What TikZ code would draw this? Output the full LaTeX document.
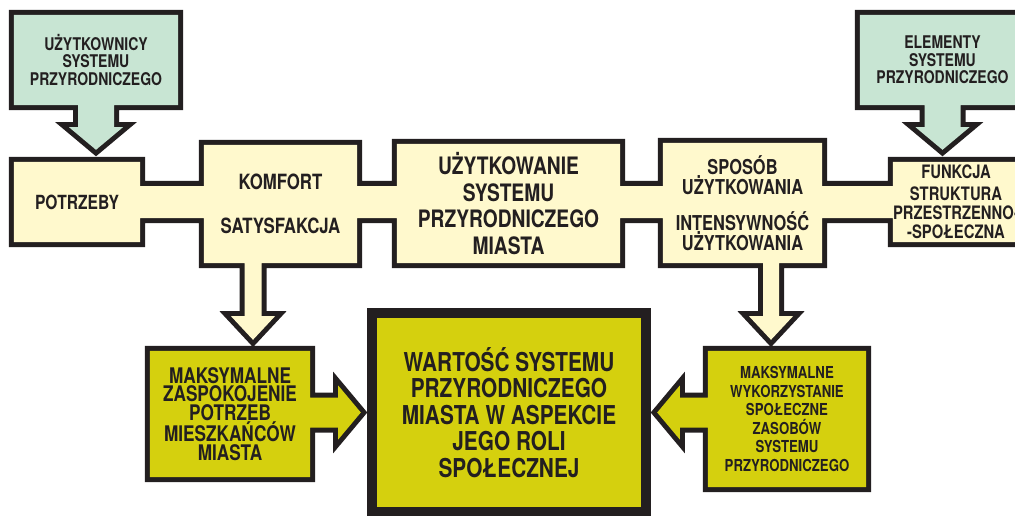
\documentclass[tikz,border=0pt]{standalone}
\usepackage{fontspec}
\setmainfont{TeX Gyre Heros}[FakeStretch=0.8]
\usetikzlibrary{calc, backgrounds}
\definecolor{ink}{HTML}{231F20}
\definecolor{cream}{HTML}{FFF9CD}
\definecolor{sage}{HTML}{C8E5D3}
\definecolor{olive}{HTML}{D5D00E}

\begin{document}
\begin{tikzpicture}[
    x=1pt, y=-1pt,
    box/.style={inner sep=0pt, align=center, text=ink},
    rim/.style={preaction={draw=ink, line width=10pt}},
    heavyrim/.style={preaction={draw=ink, line width=20pt}}
  ]
  \useasboundingbox (0,0) rectangle (1015,516);

  % Zrodla (gora)
  \node[box, minimum width=164pt, minimum height=90pt,
        font=\bfseries\fontsize{17.5}{17.5}\selectfont] (gl) at (96,60)
        {UŻYTKOWNICY\\SYSTEMU\\PRZYRODNICZEGO};
  \node[box, minimum width=165pt, minimum height=90pt,
        font=\bfseries\fontsize{17.5}{17.5}\selectfont] (gr) at (942.5,60)
        {ELEMENTY\\SYSTEMU\\PRZYRODNICZEGO};

  % Pasek uzytkowania
  \node[box, minimum width=126pt, minimum height=80pt,
        font=\bfseries\fontsize{19.5}{19}\selectfont] (potrz) at (77,202) {POTRZEBY};
  \node[box, minimum width=153pt, minimum height=118pt,
        font=\bfseries\fontsize{21}{19}\selectfont] (komf) at (280.5,204)
        {KOMFORT\\[25pt]SATYSFAKCJA};
  \node[box, minimum width=223pt, minimum height=119pt,
        font=\bfseries\fontsize{24}{26.5}\selectfont] (uzyt) at (508.5,203.5)
        {UŻYTKOWANIE\\SYSTEMU\\PRZYRODNICZEGO\\MIASTA};
  \node[box, minimum width=159pt, minimum height=120pt,
        font=\bfseries\fontsize{20.5}{18.5}\selectfont] (spos) at (742.5,203)
        {SPOSÓB\\UŻYTKOWANIA\\[16pt]INTENSYWNOŚĆ\\UŻYTKOWANIA};
  \node[box, minimum width=126pt, minimum height=80pt,
        font=\bfseries\fontsize{18.5}{19}\selectfont] (funk) at (956,202)
        {FUNKCJA\\[3pt]STRUKTURA\\PRZESTRZENNO-\\-SPOŁECZNA};

  % Wynik (dol)
  \node[box, minimum width=160pt, minimum height=126pt,
        font=\bfseries\fontsize{21.5}{18.8}\selectfont] (ol) at (230,414)
        {MAKSYMALNE\\ZASPOKOJENIE\\POTRZEB\\MIESZKAŃCÓW\\MIASTA};
  \node[box, minimum width=264pt, minimum height=189pt,
        font=\bfseries\fontsize{26}{26.5}\selectfont] (cen) at (509,412.5)
        {WARTOŚĆ SYSTEMU\\PRZYRODNICZEGO\\MIASTA W ASPEKCIE\\JEGO ROLI\\SPOŁECZNEJ};
  \node[box, minimum width=158pt, minimum height=136pt,
        font=\bfseries\fontsize{16.5}{18.6}\selectfont] (or) at (787,419)
        {MAKSYMALNE\\WYKORZYSTANIE\\SPOŁECZNE\\ZASOBÓW\\SYSTEMU\\PRZYRODNICZEGO};

  \begin{scope}[on background layer]
    % pasek z prostokatami i strzalkami w dol
    \path[rim, fill=cream]
      (potrz.south west) rectangle (potrz.north east)
      (komf.south west) rectangle (komf.north east)
      (uzyt.south west) rectangle (uzyt.north east)
      (spos.south west) rectangle (spos.north east)
      (funk.south west) rectangle (funk.north east)
      ($(potrz.east)+(0,-16)$) rectangle ($(komf.west |- potrz.east)+(0,16)$)
      ($(komf.east |- potrz.east)+(0,-16)$) rectangle ($(uzyt.west |- potrz.east)+(0,16)$)
      ($(uzyt.east |- potrz.east)+(0,-16)$) rectangle ($(spos.west |- potrz.east)+(0,16)$)
      ($(spos.east |- potrz.east)+(0,-16)$) rectangle ($(funk.west |- potrz.east)+(0,16)$)
      ($(komf.south)+(-36,0)$) -- ($(komf.south)+(-36,53)$) -- ($(komf.south)+(-49.5,53)$)
        -- ($(komf.south |- ol.north)+(-27.5,-11)$)
        -- ($(komf.south)+(-5.5,53)$) -- ($(komf.south)+(-19,53)$) -- ($(komf.south)+(-19,0)$) -- cycle
      ($(spos.south)+(20.5,0)$) -- ($(spos.south)+(20.5,53)$) -- ($(spos.south)+(6.5,53)$)
        -- ($(spos.south |- or.north)+(28.5,-11)$)
        -- ($(spos.south)+(50.5,53)$) -- ($(spos.south)+(36.5,53)$) -- ($(spos.south)+(36.5,0)$) -- cycle;

    % zrodla ze strzalkami
    \path[rim, fill=sage]
      (gl.south west) rectangle (gl.north east)
      ($(gl.south)+(-18,0)$) -- ($(gl.south)+(-18,22)$) -- ($(gl.south)+(-27,22)$)
        -- ($(gl.south |- potrz.north)+(0,-12)$)
        -- ($(gl.south)+(27,22)$) -- ($(gl.south)+(18,22)$) -- ($(gl.south)+(18,0)$) -- cycle;
    \path[rim, fill=sage]
      (gr.south west) rectangle (gr.north east)
      ($(gr.south)+(-18,0)$) -- ($(gr.south)+(-18,22)$) -- ($(gr.south)+(-27,22)$)
        -- ($(gr.south |- funk.north)+(0,-12)$)
        -- ($(gr.south)+(27,22)$) -- ($(gr.south)+(18,22)$) -- ($(gr.south)+(18,0)$) -- cycle;

    % wynik
    \path[rim, fill=olive]
      (ol.south west) rectangle (ol.north east)
      ($(ol.east |- cen.west)+(0,-15)$) -- ($(ol.east |- cen.west)+(28,-15)$) -- ($(ol.east |- cen.west)+(28,-27)$)
        -- ($(cen.west)+(-16,0)$)
        -- ($(ol.east |- cen.west)+(28,27)$) -- ($(ol.east |- cen.west)+(28,15)$) -- ($(ol.east |- cen.west)+(0,15)$) -- cycle;
    \path[rim, fill=olive]
      (or.south west) rectangle (or.north east)
      ($(or.west |- cen.east)+(0,-15)$) -- ($(or.west |- cen.east)+(-28,-15)$) -- ($(or.west |- cen.east)+(-28,-27)$)
        -- ($(cen.east)+(16,0)$)
        -- ($(or.west |- cen.east)+(-28,27)$) -- ($(or.west |- cen.east)+(-28,15)$) -- ($(or.west |- cen.east)+(0,15)$) -- cycle;
    \path[heavyrim, fill=olive] (cen.south west) rectangle (cen.north east);
  \end{scope}

\end{tikzpicture}
\end{document}
